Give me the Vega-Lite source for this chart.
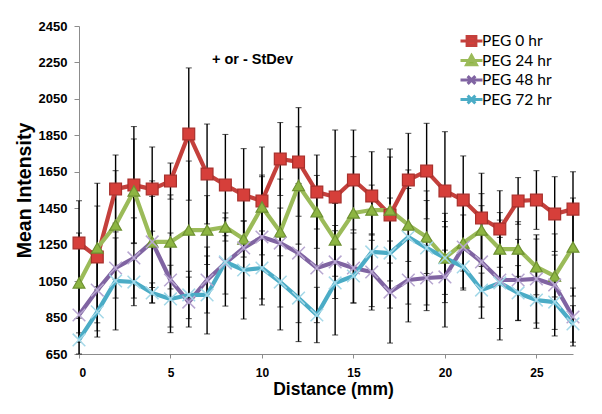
{
  "$schema": "https://vega.github.io/schema/vega-lite/v6.json",
  "width": 494,
  "height": 328,
  "autosize": "none",
  "padding": {"left": 79, "top": 26, "right": 29, "bottom": 60},
  "background": "white",
  "config": {
    "view": {"stroke": null},
    "axis": {"grid": false, "domainColor": "#8c8c8c", "tickColor": "#8c8c8c", "labelFont": "Liberation Sans", "labelFontWeight": "bold", "labelColor": "black", "titleFont": "Liberation Sans", "titleFontWeight": "bold", "titleColor": "black"}
  },
  "datasets": {
    "main": [
      {"x":0,"series":"PEG 0 hr","mean":1259,"sd":232},{"x":1,"series":"PEG 0 hr","mean":1182,"sd":405},{"x":2,"series":"PEG 0 hr","mean":1555,"sd":187},{"x":3,"series":"PEG 0 hr","mean":1577,"sd":321},{"x":4,"series":"PEG 0 hr","mean":1555,"sd":231},{"x":5,"series":"PEG 0 hr","mean":1599,"sd":99},{"x":6,"series":"PEG 0 hr","mean":1857,"sd":363},{"x":7,"series":"PEG 0 hr","mean":1638,"sd":274},{"x":8,"series":"PEG 0 hr","mean":1577,"sd":278},{"x":9,"series":"PEG 0 hr","mean":1523,"sd":254},{"x":10,"series":"PEG 0 hr","mean":1490,"sd":296},{"x":11,"series":"PEG 0 hr","mean":1720,"sd":200},{"x":12,"series":"PEG 0 hr","mean":1704,"sd":298},{"x":13,"series":"PEG 0 hr","mean":1539,"sd":203},{"x":14,"series":"PEG 0 hr","mean":1512,"sd":367},{"x":15,"series":"PEG 0 hr","mean":1605,"sd":274},{"x":16,"series":"PEG 0 hr","mean":1517,"sd":243},{"x":17,"series":"PEG 0 hr","mean":1413,"sd":362},{"x":18,"series":"PEG 0 hr","mean":1605,"sd":256},{"x":19,"series":"PEG 0 hr","mean":1654,"sd":262},{"x":20,"series":"PEG 0 hr","mean":1545,"sd":325},{"x":21,"series":"PEG 0 hr","mean":1495,"sd":242},{"x":22,"series":"PEG 0 hr","mean":1396,"sd":246},{"x":23,"series":"PEG 0 hr","mean":1336,"sd":210},{"x":24,"series":"PEG 0 hr","mean":1490,"sd":128},{"x":25,"series":"PEG 0 hr","mean":1495,"sd":161},{"x":26,"series":"PEG 0 hr","mean":1418,"sd":205},{"x":27,"series":"PEG 0 hr","mean":1445,"sd":205},
      {"x":0,"series":"PEG 24 hr","mean":1040,"sd":274},{"x":1,"series":"PEG 24 hr","mean":1232,"sd":230},{"x":2,"series":"PEG 24 hr","mean":1358,"sd":298},{"x":3,"series":"PEG 24 hr","mean":1545,"sd":285},{"x":4,"series":"PEG 24 hr","mean":1265,"sd":250},{"x":5,"series":"PEG 24 hr","mean":1265,"sd":258},{"x":6,"series":"PEG 24 hr","mean":1330,"sd":379},{"x":7,"series":"PEG 24 hr","mean":1330,"sd":189},{"x":8,"series":"PEG 24 hr","mean":1347,"sd":77},{"x":9,"series":"PEG 24 hr","mean":1281,"sd":99},{"x":10,"series":"PEG 24 hr","mean":1457,"sd":166},{"x":11,"series":"PEG 24 hr","mean":1320,"sd":131},{"x":12,"series":"PEG 24 hr","mean":1575,"sd":322},{"x":13,"series":"PEG 24 hr","mean":1430,"sd":200},{"x":14,"series":"PEG 24 hr","mean":1276,"sd":200},{"x":15,"series":"PEG 24 hr","mean":1424,"sd":309},{"x":16,"series":"PEG 24 hr","mean":1440,"sd":137},{"x":17,"series":"PEG 24 hr","mean":1440,"sd":291},{"x":18,"series":"PEG 24 hr","mean":1358,"sd":200},{"x":19,"series":"PEG 24 hr","mean":1292,"sd":200},{"x":20,"series":"PEG 24 hr","mean":1177,"sd":200},{"x":21,"series":"PEG 24 hr","mean":1259,"sd":154},{"x":22,"series":"PEG 24 hr","mean":1330,"sd":200},{"x":23,"series":"PEG 24 hr","mean":1226,"sd":200},{"x":24,"series":"PEG 24 hr","mean":1226,"sd":150},{"x":25,"series":"PEG 24 hr","mean":1128,"sd":153},{"x":26,"series":"PEG 24 hr","mean":1078,"sd":115},{"x":27,"series":"PEG 24 hr","mean":1237,"sd":269},
      {"x":0,"series":"PEG 48 hr","mean":864,"sd":150},{"x":1,"series":"PEG 48 hr","mean":1001,"sd":180},{"x":2,"series":"PEG 48 hr","mean":1122,"sd":165},{"x":3,"series":"PEG 48 hr","mean":1177,"sd":220},{"x":4,"series":"PEG 48 hr","mean":1265,"sd":335},{"x":5,"series":"PEG 48 hr","mean":1056,"sd":258},{"x":6,"series":"PEG 48 hr","mean":935,"sd":137},{"x":7,"series":"PEG 48 hr","mean":1056,"sd":181},{"x":8,"series":"PEG 48 hr","mean":1149,"sd":170},{"x":9,"series":"PEG 48 hr","mean":1232,"sd":275},{"x":10,"series":"PEG 48 hr","mean":1292,"sd":340},{"x":11,"series":"PEG 48 hr","mean":1259,"sd":351},{"x":12,"series":"PEG 48 hr","mean":1204,"sd":382},{"x":13,"series":"PEG 48 hr","mean":1122,"sd":300},{"x":14,"series":"PEG 48 hr","mean":1155,"sd":200},{"x":15,"series":"PEG 48 hr","mean":1122,"sd":192},{"x":16,"series":"PEG 48 hr","mean":1100,"sd":209},{"x":17,"series":"PEG 48 hr","mean":990,"sd":280},{"x":18,"series":"PEG 48 hr","mean":1056,"sd":230},{"x":19,"series":"PEG 48 hr","mean":1067,"sd":179},{"x":20,"series":"PEG 48 hr","mean":1073,"sd":275},{"x":21,"series":"PEG 48 hr","mean":1237,"sd":236},{"x":22,"series":"PEG 48 hr","mean":1155,"sd":309},{"x":23,"series":"PEG 48 hr","mean":1056,"sd":329},{"x":24,"series":"PEG 48 hr","mean":1056,"sd":223},{"x":25,"series":"PEG 48 hr","mean":1062,"sd":242},{"x":26,"series":"PEG 48 hr","mean":1029,"sd":280},{"x":27,"series":"PEG 48 hr","mean":853,"sd":159},
      {"x":0,"series":"PEG 72 hr","mean":727,"sd":120},{"x":1,"series":"PEG 72 hr","mean":881,"sd":138},{"x":2,"series":"PEG 72 hr","mean":1051,"sd":269},{"x":3,"series":"PEG 72 hr","mean":1045,"sd":130},{"x":4,"series":"PEG 72 hr","mean":985,"sd":55},{"x":5,"series":"PEG 72 hr","mean":952,"sd":185},{"x":6,"series":"PEG 72 hr","mean":974,"sd":130},{"x":7,"series":"PEG 72 hr","mean":974,"sd":214},{"x":8,"series":"PEG 72 hr","mean":1155,"sd":242},{"x":9,"series":"PEG 72 hr","mean":1111,"sd":269},{"x":10,"series":"PEG 72 hr","mean":1122,"sd":203},{"x":11,"series":"PEG 72 hr","mean":1045,"sd":263},{"x":12,"series":"PEG 72 hr","mean":957,"sd":239},{"x":13,"series":"PEG 72 hr","mean":864,"sd":152},{"x":14,"series":"PEG 72 hr","mean":1040,"sd":286},{"x":15,"series":"PEG 72 hr","mean":1078,"sd":148},{"x":16,"series":"PEG 72 hr","mean":1210,"sd":300},{"x":17,"series":"PEG 72 hr","mean":1204,"sd":302},{"x":18,"series":"PEG 72 hr","mean":1292,"sd":368},{"x":19,"series":"PEG 72 hr","mean":1232,"sd":313},{"x":20,"series":"PEG 72 hr","mean":1177,"sd":245},{"x":21,"series":"PEG 72 hr","mean":1128,"sd":116},{"x":22,"series":"PEG 72 hr","mean":1001,"sd":93},{"x":23,"series":"PEG 72 hr","mean":1040,"sd":250},{"x":24,"series":"PEG 72 hr","mean":985,"sd":150},{"x":25,"series":"PEG 72 hr","mean":946,"sd":155},{"x":26,"series":"PEG 72 hr","mean":935,"sd":150},{"x":27,"series":"PEG 72 hr","mean":815,"sd":100}
    ],
    "note": [{"x": 9.48, "y": 2263, "label": "+ or - StDev"}]
  },
  "data": {"name": "main"},
  "encoding": {
    "x": {"field": "x", "type": "quantitative", "scale": {"domain": [0, 27], "nice": false, "zero": false},
      "axis": {"values": [0, 5, 10, 15, 20, 25], "title": "Distance (mm)", "titleFontSize": 17.5, "titlePadding": 2, "labelFontSize": 12, "tickSize": 4, "labelPadding": 9, "titleX": 254}},
    "y": {"field": "mean", "type": "quantitative", "scale": {"domain": [650, 2450], "nice": false, "zero": false, "clamp": true},
      "axis": {"values": [650, 850, 1050, 1250, 1450, 1650, 1850, 2050, 2250, 2450], "format": "d", "labelOverlap": false, "title": "Mean Intensity", "titleFontSize": 19.5, "titlePadding": 4, "labelFontSize": 13, "tickSize": 5, "labelPadding": 7}}
  },
  "layer": [
    {
      "mark": {"type": "errorbar", "ticks": {"size": 6, "color": "black", "strokeWidth": 1.3}, "rule": {"color": "black", "strokeWidth": 1.4}},
      "encoding": {
        "yError": {"field": "sd"}
      }
    },
    {
      "mark": {"type": "line", "strokeWidth": 4.2, "strokeJoin": "round"},
      "encoding": {
        "color": {"field": "series", "type": "nominal",
          "scale": {"domain": ["PEG 0 hr", "PEG 24 hr", "PEG 48 hr", "PEG 72 hr"], "range": ["#C4403C", "#9BBB59", "#8064A2", "#4BACC6"]},
          "legend": {"title": null, "orient": "none", "legendX": 380, "legendY": 7, "symbolSize": 484, "rowPadding": 2.5, "clipHeight": 16, "labelOffset": -2,
            "labelFont": "Lato", "labelFontSize": 15.5, "labelColor": "black",
            "symbolStrokeWidth": 3,
            "encode": {"symbols": {"update": {
              "shape": {"signal": "datum.value == 'PEG 0 hr' ? 'M-1,0L1,0M-0.4,-0.4L0.4,-0.4L0.4,0.4L-0.4,0.4Z' : datum.value == 'PEG 24 hr' ? 'M-1,0L1,0M0,-0.45L0.45,0.38L-0.45,0.38Z' : 'M-1,0L1,0M-0.35,-0.35L0.35,0.35M-0.35,0.35L0.35,-0.35'"},
              "fill": {"signal": "datum.value == 'PEG 0 hr' ? '#D63F3A' : datum.value == 'PEG 24 hr' ? '#8DB542' : 'transparent'"},
              "stroke": {"signal": "datum.value == 'PEG 0 hr' ? '#C4403C' : datum.value == 'PEG 24 hr' ? '#9BBB59' : datum.value == 'PEG 48 hr' ? '#8064A2' : '#4BACC6'"},
              "strokeWidth": {"value": 3}
            }}}}}
      }
    },
    {
      "transform": [{"filter": "datum.series == 'PEG 0 hr'"}],
      "mark": {"type": "point", "shape": "square", "filled": true, "opacity": 1, "fill": "#D63F3A", "stroke": "#A8302C", "strokeWidth": 1.2, "size": 140}
    },
    {
      "transform": [{"filter": "datum.series == 'PEG 24 hr'"}],
      "mark": {"type": "point", "shape": "triangle-up", "filled": true, "opacity": 1, "fill": "#8DB542", "stroke": "#6E9132", "strokeWidth": 1.2, "size": 140}
    },
    {
      "transform": [{"filter": "datum.series == 'PEG 48 hr'"}],
      "mark": {"type": "point", "shape": "M-1,-1L1,1M-1,1L1,-1", "filled": false, "opacity": 1, "stroke": "#B7A6D0", "strokeWidth": 1.5, "size": 160}
    },
    {
      "transform": [{"filter": "datum.series == 'PEG 72 hr'"}],
      "mark": {"type": "point", "shape": "M-1,-1L1,1M-1,1L1,-1", "filled": false, "opacity": 1, "stroke": "#A4D8E8", "strokeWidth": 1.5, "size": 160}
    },
    {
      "data": {"name": "note"},
      "mark": {"type": "text", "font": "Liberation Sans", "fontWeight": "bold", "fontSize": 14.5, "baseline": "middle", "align": "center", "color": "black"},
      "encoding": {
        "x": {"field": "x", "type": "quantitative"},
        "y": {"field": "y", "type": "quantitative"},
        "text": {"field": "label"}
      }
    }
  ]
}
